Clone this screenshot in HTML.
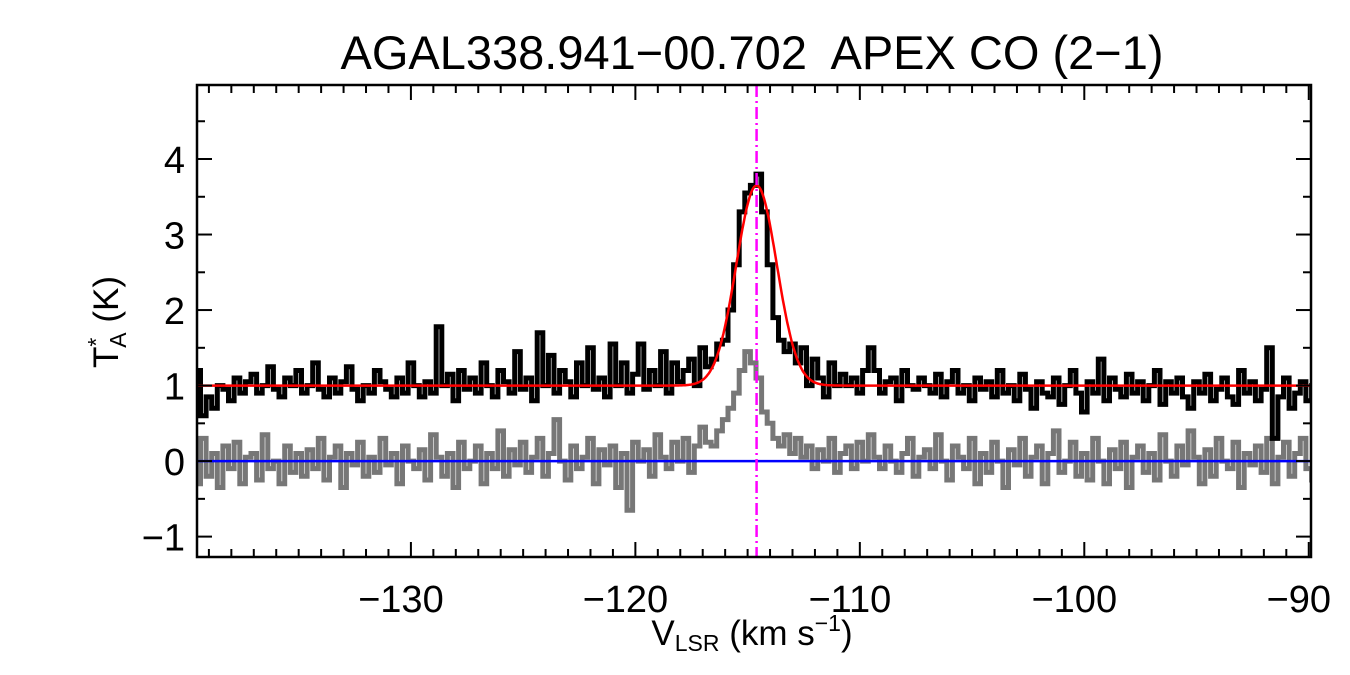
<!DOCTYPE html>
<html><head><meta charset="utf-8">
<style>html,body{margin:0;padding:0;background:#fff;}svg{display:block;font-family:"Liberation Sans",sans-serif;}</style>
</head><body>
<svg id="chart" width="1350" height="675" viewBox="0 0 1350 675" xmlns="http://www.w3.org/2000/svg">
<rect width="1350" height="675" fill="#fff"/>
<text x="752" y="69" font-size="47" text-anchor="middle" xml:space="preserve" style="white-space:pre">AGAL338.941−00.702  APEX CO (2−1)</text>
<g id="plot"></g>
<text x="752" y="645" font-size="35" text-anchor="middle">V<tspan font-size="23" dy="6">LSR</tspan><tspan dy="-6"> (km s</tspan><tspan font-size="23" dy="-14">−1</tspan><tspan dy="14">)</tspan></text>
<text transform="translate(118,322) rotate(-90)" font-size="35" text-anchor="middle">T<tspan font-size="23" dy="-14">*</tspan><tspan font-size="23" dx="-10" dy="22">A</tspan><tspan dy="-8"> (K)</tspan></text>
</svg>
<script>
const channelStart = -139.5;
const channelWidth = 0.25;
const observedT = [
1.2,0.6,0.85,0.7,1.0,0.95,0.8,1.1,0.9,1.05,
1.15,0.9,1.0,1.25,0.95,0.85,1.1,1.0,1.2,0.9,
1.0,1.3,0.95,0.85,1.1,0.9,1.05,1.25,0.95,0.8,
1.0,0.9,1.2,1.05,0.95,0.85,1.1,0.9,1.3,1.0,
0.85,1.05,0.9,1.78,1.0,1.15,0.8,1.2,0.95,1.1,
0.9,1.3,1.0,0.85,1.2,1.05,0.9,1.45,0.95,1.1,
0.8,1.7,1.0,1.4,0.9,1.2,1.05,0.85,1.3,1.0,
1.5,0.95,1.1,0.85,1.55,1.0,1.3,0.9,1.15,1.55,
0.95,1.2,1.0,1.45,0.9,1.3,1.05,1.2,1.35,1.0,
1.5,1.25,1.35,1.55,1.6,2.0,
2.6,3.3,3.55,3.65,3.8,3.3,2.6,1.9,1.6,1.45,
1.55,1.3,1.5,1.0,1.35,1.1,0.85,1.3,1.0,1.15,
1.0,1.1,0.9,1.2,
1.5,1.2,0.9,1.05,1.1,0.8,1.2,1.0,0.95,1.1,
1.0,0.9,1.15,0.85,1.05,1.2,0.9,1.0,0.8,1.1,
0.95,1.05,0.85,1.2,0.9,1.0,0.8,1.15,0.95,0.7,
1.05,0.9,0.85,1.1,0.75,1.0,1.2,0.9,0.65,1.05,
0.9,1.35,0.8,1.1,0.95,0.85,1.15,0.9,1.05,0.8,
1.0,1.2,0.75,1.05,0.9,1.1,0.85,0.7,1.05,0.9,
1.15,0.8,0.95,1.1,0.85,0.75,1.2,0.9,1.05,0.8,
0.95,1.5,0.3,0.85,1.1,0.7,0.9,1.05,0.8,1.0];
const residualT = [
-0.3,0.3,-0.2,0.1,-0.35,0.2,-0.1,0.25,-0.3,0.05,
0.1,-0.25,0.35,-0.1,0.0,-0.3,0.2,-0.15,0.1,-0.2,
0.15,-0.1,0.3,-0.25,0.05,0.2,-0.35,0.1,-0.05,0.25,
-0.2,0.05,-0.15,0.3,-0.05,0.1,-0.3,0.2,0.0,-0.1,
0.15,-0.25,0.35,0.05,-0.2,0.1,-0.35,0.25,-0.1,0.0,
0.2,-0.3,0.1,-0.1,0.4,-0.2,0.15,-0.05,0.25,-0.15,
0.05,0.3,-0.2,0.1,0.55,0.0,-0.25,0.2,-0.1,0.05,
0.3,-0.3,0.15,-0.05,0.2,-0.35,0.1,-0.65,0.25,0.0,
0.15,-0.2,0.35,0.05,-0.1,0.25,0.0,0.3,-0.15,0.2,
0.45,0.25,0.2,0.4,0.55,0.7,
0.9,1.2,1.45,1.3,1.1,0.65,0.5,0.3,0.2,0.35,
0.1,0.3,0.05,0.2,-0.1,0.15,0.0,0.3,-0.15,0.1,
0.2,-0.1,0.25,0.0,
0.35,0.05,-0.1,0.2,0.0,-0.15,0.1,0.3,-0.2,0.05,
0.15,-0.1,0.35,0.0,-0.25,0.2,0.05,-0.1,0.3,-0.3,
0.1,-0.15,0.25,0.0,-0.35,0.15,-0.05,0.3,-0.2,0.05,
0.2,-0.3,0.1,0.4,-0.15,0.0,0.25,-0.2,0.1,-0.25,
0.3,0.0,-0.3,0.15,-0.1,0.25,-0.35,0.05,0.2,-0.15,
0.1,-0.25,0.35,0.0,-0.2,0.2,-0.05,0.4,0.05,-0.3,
0.15,-0.2,0.3,0.0,-0.1,0.25,-0.35,0.1,-0.05,0.2,
-0.15,0.3,-0.3,0.05,0.25,-0.2,0.1,0.3,-0.1,-0.25];
const fitBaseline = 1.0;
const fitAmplitude = 2.65;
const fitCenter = -114.6;
const fitSigma = 0.9;
const xTicks = [-130,-120,-110,-100,-90];
const xTickLabels = ["−130","−120","−110","−100","−90"];
const yTicks = [-1,0,1,2,3,4];
const yTickLabels = ["−1","0","1","2","3","4"];

const L=197,R=1311,T=85,B=557;
const xMin=-139.53,xMax=-89.9,yMin=-1.27,yMax=4.98;
const sx=v=>L+(v-xMin)/(xMax-xMin)*(R-L);
const sy=v=>B-(v-yMin)/(yMax-yMin)*(B-T);
const NS="http://www.w3.org/2000/svg";
const g=document.getElementById('plot');
function mk(tag,attrs){const e=document.createElementNS(NS,tag);for(const k in attrs)e.setAttribute(k,attrs[k]);g.appendChild(e);return e;}
const cp=document.createElementNS(NS,'clipPath');cp.setAttribute('id','clip');
const cr=document.createElementNS(NS,'rect');cr.setAttribute('x',L);cr.setAttribute('y',T);cr.setAttribute('width',R-L);cr.setAttribute('height',B-T);cp.appendChild(cr);g.appendChild(cp);

function stepPath(arr){let d='';arr.forEach((v,i)=>{const x0=sx(channelStart+i*channelWidth-channelWidth/2),x1=sx(channelStart+i*channelWidth+channelWidth/2),y=sy(v);d+=(i?'L':'M')+x0.toFixed(1)+','+y.toFixed(1)+'L'+x1.toFixed(1)+','+y.toFixed(1);});return d;}
let e;
e=mk('path',{d:stepPath(residualT),fill:'none',stroke:'#777',"stroke-width":5,"clip-path":'url(#clip)'});


e=mk('path',{d:stepPath(observedT),fill:'none',stroke:'#000',"stroke-width":5,"clip-path":'url(#clip)'});


e=mk('line',{x1:L,x2:R,y1:sy(0),y2:sy(0),stroke:'#0000ff',"stroke-width":2.5});


let fd='';for(let v=xMin;v<=xMax;v+=0.05){const y=fitBaseline+fitAmplitude*Math.exp(-0.5*Math.pow((v-fitCenter)/fitSigma,2));fd+=(fd?'L':'M')+sx(v).toFixed(1)+','+sy(y).toFixed(1);}
e=mk('path',{d:fd,fill:'none',stroke:'#ff0000',"stroke-width":2.5});


e=mk('line',{x1:sx(fitCenter),x2:sx(fitCenter),y1:T,y2:B,stroke:'#ff00ff',"stroke-width":2.5,"stroke-dasharray":'12,4,2,4'});


e=mk('rect',{x:L,y:T,width:R-L,height:B-T,fill:'none',stroke:'#000',"stroke-width":2.5});


for(let v=-139;v<=-90;v++){const major=v%10===0;const len=major?15:8;const x=sx(v);
 e=mk('line',{x1:x,x2:x,y1:B,y2:B-len,stroke:'#000',"stroke-width":2});
 
 
 e=mk('line',{x1:x,x2:x,y1:T,y2:T+len,stroke:'#000',"stroke-width":2});
 
 }
for(let v=-1;v<=4.5;v+=0.5){const major=Math.abs(v-Math.round(v))<0.01;const len=major?15:8;const y=sy(v);
 e=mk('line',{x1:L,x2:L+len,y1:y,y2:y,stroke:'#000',"stroke-width":2});
 
 
 e=mk('line',{x1:R,x2:R-len,y1:y,y2:y,stroke:'#000',"stroke-width":2});
 
 }
xTicks.forEach((v,i)=>{e=mk('text',{x:sx(v)-10,y:612,"font-size":38,"text-anchor":'middle'});e.textContent=xTickLabels[i];
 
 });
yTicks.forEach((v,i)=>{e=mk('text',{x:185,y:sy(v)+14,"font-size":38,"text-anchor":'end'});e.textContent=yTickLabels[i];
 
 });
</script>
</body></html>
